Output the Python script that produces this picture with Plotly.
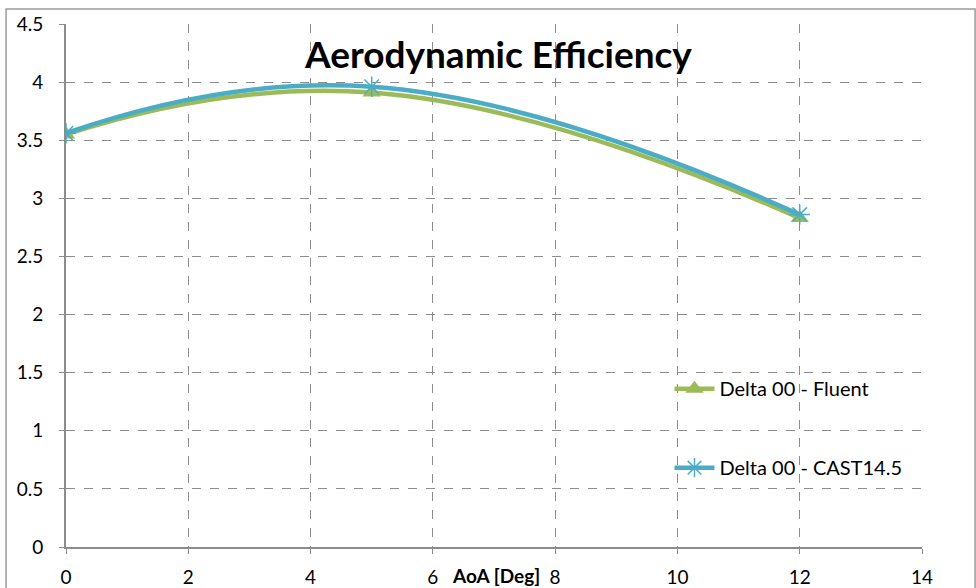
import plotly.graph_objects as go

# Aerodynamic efficiency (L/D) versus angle of attack
aoa = [0, 5, 12]
fluent = [3.55, 3.91, 2.83]
cast = [3.56, 3.96, 2.86]

x_ticks = [0, 2, 4, 6, 8, 10, 12, 14]
y_ticks = [0, 0.5, 1, 1.5, 2, 2.5, 3, 3.5, 4, 4.5]

GREEN = "#9BBB59"
BLUE = "#4BACC6"
GRID = "#8c8c8c"
FONT = "Lato, 'Open Sans', sans-serif"

fig = go.Figure()
fig.add_trace(go.Scatter(
    x=aoa, y=fluent, name="Delta 00 - Fluent", mode="lines+markers",
    line=dict(color=GREEN, width=4.5, shape="spline", smoothing=1.3),
    marker=dict(symbol="triangle-up", size=16, color=GREEN),
    legendgroup="a",
))
fig.add_trace(go.Scatter(
    x=aoa, y=cast, name="Delta 00 - CAST14.5", mode="lines+markers",
    line=dict(color=BLUE, width=4.5, shape="spline", smoothing=1.3),
    marker=dict(symbol="asterisk-open", size=17, color=BLUE,
                line=dict(color=BLUE, width=1.5)),
    legendgroup="b",
))

axis_common = dict(
    showgrid=True, gridcolor=GRID, griddash="dash", gridwidth=1,
    showline=True, linecolor=GRID, linewidth=2,
    ticks="outside", ticklen=5, tickcolor=GRID,
    zeroline=False, automargin=False,
    tickfont=dict(family=FONT, size=19, color="#000000"),
)

fig.update_xaxes(range=[0, 14], tickvals=x_ticks, ticklabelstandoff=7,
                 **axis_common)
fig.update_yaxes(range=[0, 4.5], tickvals=y_ticks, ticklabelstandoff=12,
                 **axis_common)

fig.update_layout(
    width=976, height=588,
    margin=dict(l=66, r=54, t=24, b=41),
    paper_bgcolor="white", plot_bgcolor="white",
    font=dict(family=FONT, color="#000000"),
    showlegend=True,
    legend=dict(
        x=0.705, y=0.34, xanchor="left", yanchor="top",
        bgcolor="rgba(0,0,0,0)", tracegroupgap=50,
        font=dict(family=FONT, size=20, color="#000000"),
        itemwidth=40,
    ),
    annotations=[
        dict(text="<b>Aerodynamic Efficiency</b>", x=0.505, y=0.944,
             xref="paper", yref="paper", showarrow=False,
             xanchor="center", yanchor="middle",
             font=dict(family=FONT, size=37, color="#000000")),
        dict(text="<b>AoA [Deg]</b>", x=0.502, y=-0.055,
             xref="paper", yref="paper", showarrow=False,
             xanchor="center", yanchor="middle",
             font=dict(family=FONT, size=19, color="#000000")),
    ],
    shapes=[
        dict(type="rect", xref="paper", yref="paper",
             x0=-0.070, x1=1.062, y0=-0.2, y1=1.0287,
             line=dict(color="#9a9a9a", width=1.5), layer="below"),
    ],
)

fig.write_html("out.html")
